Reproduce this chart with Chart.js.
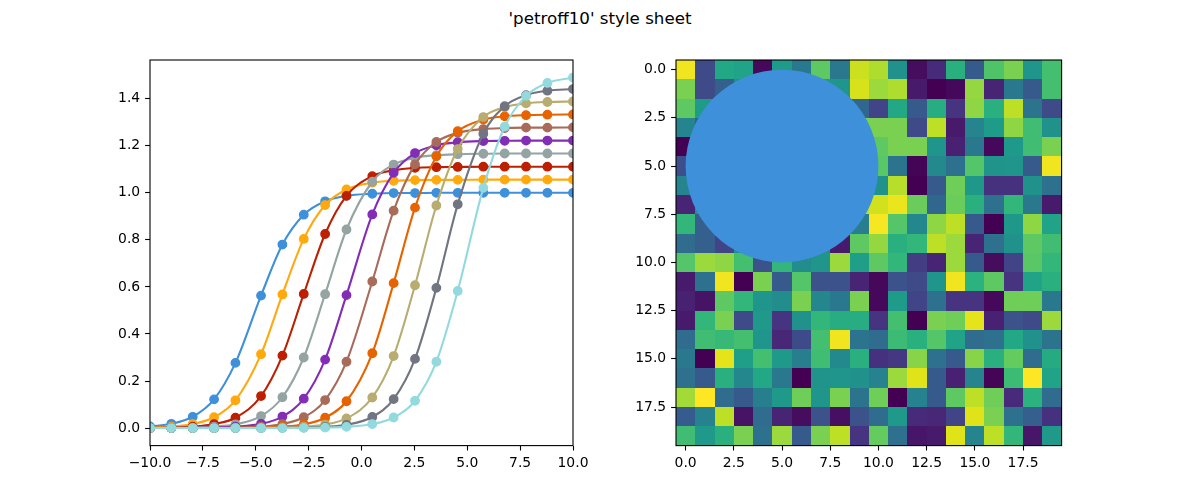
<!DOCTYPE html>
<html>
<head>
<meta charset="utf-8">
<script src="https://cdn.jsdelivr.net/npm/chart.js@4"></script>
<style>
  html, body { margin: 0; padding: 0; background: #fff; }
  #fig { position: relative; width: 1200px; height: 500px; }
  #title { position: absolute; left: 0; top: 8px; width: 1200px; text-align: center;
           font-family: 'DejaVu Sans'; font-size: 16.7px; color: #000; }
  canvas { position: absolute; top: 0; }
</style>
</head>
<body>
<div id="fig">
  <div id="title">'petroff10' style sheet</div>
  <canvas id="lines" width="600" height="500" style="left:0"></canvas>
  <canvas id="image" width="600" height="500" style="left:600px"></canvas>
</div>
<script>
// marker positions on the x axis (left panel)
const xMarkers = [-10, -8.99, -7.98, -6.97, -5.96, -4.75, -3.74, -2.73, -1.72, -0.71,
                  0.51, 1.52, 2.53, 3.54, 4.55, 5.76, 6.77, 7.78, 8.79, 10];

// sigmoid curves, one per colour
const curve1 = [0.007, 0.018, 0.048, 0.122, 0.277, 0.563, 0.780, 0.907, 0.964, 0.987, 0.996, 0.999, 0.999, 1.0, 1.0, 1.0, 1.0, 1.0, 1.0, 1.0];
const curve2 = [0.002, 0.006, 0.017, 0.046, 0.118, 0.314, 0.568, 0.804, 0.948, 1.014, 1.043, 1.051, 1.054, 1.055, 1.055, 1.056, 1.056, 1.056, 1.056, 1.056];
const curve3 = [0.001, 0.002, 0.006, 0.017, 0.044, 0.136, 0.308, 0.570, 0.825, 0.987, 1.071, 1.096, 1.106, 1.109, 1.110, 1.111, 1.111, 1.111, 1.111, 1.111];
const curve4 = [0.0, 0.001, 0.002, 0.006, 0.016, 0.051, 0.131, 0.300, 0.569, 0.844, 1.047, 1.120, 1.149, 1.160, 1.164, 1.166, 1.167, 1.167, 1.167, 1.167];
const curve5 = [0.0, 0.0, 0.001, 0.002, 0.006, 0.018, 0.049, 0.125, 0.291, 0.565, 0.908, 1.085, 1.169, 1.202, 1.215, 1.220, 1.221, 1.222, 1.222, 1.222];
const curve6 = [0.0, 0.0, 0.0, 0.001, 0.002, 0.006, 0.017, 0.046, 0.119, 0.282, 0.623, 0.924, 1.121, 1.216, 1.255, 1.271, 1.275, 1.277, 1.277, 1.278];
const curve7 = [0.0, 0.0, 0.0, 0.0, 0.001, 0.002, 0.006, 0.016, 0.044, 0.114, 0.318, 0.616, 0.937, 1.155, 1.262, 1.311, 1.325, 1.330, 1.332, 1.333];
const curve8 = [0.0, 0.0, 0.0, 0.0, 0.0, 0.001, 0.002, 0.006, 0.015, 0.041, 0.130, 0.306, 0.607, 0.946, 1.186, 1.322, 1.364, 1.380, 1.386, 1.388];
const curve9 = [0.0, 0.0, 0.0, 0.0, 0.0, 0.0, 0.001, 0.002, 0.005, 0.014, 0.047, 0.123, 0.294, 0.596, 0.951, 1.251, 1.368, 1.415, 1.434, 1.441];
const curve10 = [0.0, 0.0, 0.0, 0.0, 0.0, 0.0, 0.0, 0.001, 0.002, 0.005, 0.017, 0.045, 0.116, 0.282, 0.583, 1.021, 1.281, 1.412, 1.467, 1.490];
const curves = [curve1, curve2, curve3, curve4, curve5, curve6, curve7, curve8, curve9, curve10];

const petroff10 = ['#3f90da', '#ffa90e', '#bd1f01', '#94a4a2', '#832db6',
                   '#a96b59', '#e76300', '#b9ac70', '#717581', '#92dadd'];

const lineXTicks = [-10, -7.5, -5, -2.5, 0, 2.5, 5, 7.5, 10];
const lineXLabels = ['\u221210.0', '\u22127.5', '\u22125.0', '\u22122.5', '0.0', '2.5', '5.0', '7.5', '10.0'];
const lineYTicks = [0, 0.2, 0.4, 0.6, 0.8, 1.0, 1.2, 1.4];
const lineYLabels = ['0.0', '0.2', '0.4', '0.6', '0.8', '1.0', '1.2', '1.4'];

// right panel: 20x20 image values (0..1), row 0 at the top
const cellValues = [
  [0.98, 0.22, 0.60, 0.58, 0.02, 0.55, 0.40, 0.75, 0.40, 0.92, 0.88, 0.50, 0.03, 0.12, 0.63, 0.28, 0.72, 0.80, 0.52, 0.70],
  [0.80, 0.22, 0.30, 0.50, 0.50, 0.50, 0.50, 0.55, 0.52, 0.94, 0.85, 0.88, 0.07, 0.00, 0.02, 0.84, 0.10, 0.40, 0.28, 0.70],
  [0.75, 0.55, 0.50, 0.50, 0.50, 0.50, 0.50, 0.50, 0.50, 0.33, 0.20, 0.60, 0.28, 0.62, 0.15, 0.83, 0.63, 0.90, 0.38, 0.22],
  [0.45, 0.30, 0.50, 0.50, 0.50, 0.50, 0.50, 0.50, 0.50, 0.80, 0.80, 0.80, 0.22, 0.90, 0.07, 0.45, 0.55, 0.83, 0.69, 0.50],
  [0.00, 0.50, 0.50, 0.50, 0.50, 0.50, 0.50, 0.50, 0.50, 0.50, 0.75, 0.80, 0.80, 0.52, 0.09, 0.40, 0.02, 0.54, 0.69, 0.80],
  [0.24, 0.50, 0.50, 0.50, 0.50, 0.50, 0.50, 0.50, 0.50, 0.50, 0.74, 0.38, 0.01, 0.47, 0.37, 0.73, 0.51, 0.52, 0.28, 0.98],
  [0.45, 0.50, 0.50, 0.50, 0.50, 0.50, 0.50, 0.50, 0.50, 0.50, 0.50, 0.89, 0.00, 0.28, 0.78, 0.53, 0.14, 0.14, 0.50, 0.37],
  [0.10, 0.50, 0.50, 0.50, 0.50, 0.50, 0.50, 0.50, 0.50, 0.90, 0.93, 0.97, 0.77, 0.33, 0.77, 0.63, 0.37, 0.66, 0.40, 0.07],
  [0.66, 0.30, 0.50, 0.50, 0.50, 0.50, 0.50, 0.50, 0.50, 0.42, 0.99, 0.73, 0.46, 0.83, 0.90, 0.28, 0.00, 0.53, 0.83, 0.58],
  [0.35, 0.30, 0.20, 0.50, 0.50, 0.50, 0.50, 0.50, 0.07, 0.75, 0.84, 0.63, 0.66, 0.90, 0.85, 0.10, 0.37, 0.50, 0.75, 0.69],
  [0.73, 0.85, 0.83, 0.70, 0.25, 0.66, 0.48, 0.52, 0.85, 0.56, 0.75, 0.66, 0.18, 0.10, 0.85, 0.28, 0.03, 0.20, 0.74, 0.66],
  [0.07, 0.37, 0.98, 0.00, 0.80, 0.28, 0.73, 0.25, 0.25, 0.10, 0.02, 0.25, 0.22, 0.52, 0.98, 0.64, 0.75, 0.15, 0.58, 0.63],
  [0.09, 0.05, 0.75, 0.66, 0.52, 0.48, 0.80, 0.46, 0.40, 0.80, 0.02, 0.55, 0.20, 0.37, 0.15, 0.15, 0.02, 0.78, 0.78, 0.40],
  [0.07, 0.66, 0.80, 0.22, 0.54, 0.15, 0.50, 0.66, 0.62, 0.62, 0.15, 0.70, 0.00, 0.80, 0.78, 0.96, 0.09, 0.25, 0.22, 0.85],
  [0.35, 0.69, 0.67, 0.70, 0.52, 0.11, 0.23, 0.70, 0.98, 0.38, 0.35, 0.68, 0.63, 0.73, 0.58, 0.35, 0.37, 0.60, 0.50, 0.38],
  [0.40, 0.00, 0.96, 0.56, 0.70, 0.54, 0.43, 0.69, 0.47, 0.63, 0.14, 0.16, 0.82, 0.37, 0.28, 0.82, 0.63, 0.76, 0.35, 0.61],
  [0.37, 0.28, 0.63, 0.46, 0.60, 0.40, 0.00, 0.51, 0.52, 0.50, 0.44, 0.85, 0.95, 0.28, 0.09, 0.45, 0.01, 0.68, 1.00, 0.58],
  [0.86, 1.00, 0.35, 0.28, 0.43, 0.54, 0.78, 0.52, 0.80, 0.38, 0.78, 0.00, 0.44, 0.28, 0.75, 0.90, 0.78, 0.12, 0.64, 0.35],
  [0.29, 0.44, 0.90, 0.05, 0.35, 0.10, 0.03, 0.25, 0.04, 0.25, 0.35, 0.54, 0.12, 0.11, 0.20, 0.95, 0.80, 0.37, 0.30, 0.14],
  [0.69, 0.54, 0.63, 0.80, 0.37, 0.85, 0.28, 0.80, 0.90, 0.15, 0.76, 0.37, 0.06, 0.07, 0.95, 0.45, 0.90, 0.66, 0.06, 0.54]
];
const imageTicks = [0, 2.5, 5, 7.5, 10, 12.5, 15, 17.5];
const imageLabels = ['0.0', '2.5', '5.0', '7.5', '10.0', '12.5', '15.0', '17.5'];
const patchCenter = [5, 5];
const patchRadius = 5;

// viridis colormap stops, every 0.05
const viridis = ['#440154', '#471365', '#482475', '#463480', '#414487', '#3b528b', '#355f8d',
  '#2f6c8e', '#2a788e', '#25848e', '#21918c', '#1e9c89', '#22a884', '#2fb47c', '#44bf70',
  '#5ec962', '#7ad151', '#9bd93c', '#bddf26', '#dfe318', '#fde725'];

function hexRgb(h) {
  return [parseInt(h.slice(1, 3), 16), parseInt(h.slice(3, 5), 16), parseInt(h.slice(5, 7), 16)];
}
function viridisColor(v) {
  const p = Math.max(0, Math.min(1, v)) * (viridis.length - 1);
  const i = Math.min(viridis.length - 2, Math.floor(p));
  const f = p - i;
  const a = hexRgb(viridis[i]), b = hexRgb(viridis[i + 1]);
  const c = a.map((x, k) => Math.round(x + (b[k] - x) * f));
  return 'rgb(' + c.join(',') + ')';
}

Chart.defaults.font.family = 'DejaVu Sans';
Chart.defaults.font.size = 13.9;
Chart.defaults.color = '#000';

const spinePlugin = {
  id: 'spines',
  afterDraw(chart) {
    const a = chart.chartArea, ctx = chart.ctx;
    ctx.save();
    ctx.strokeStyle = '#000';
    ctx.lineWidth = 1.1;
    ctx.strokeRect(a.left, a.top, a.right - a.left, a.bottom - a.top);
    ctx.restore();
  }
};

function axis(ticks, labels, extra) {
  return Object.assign({
    type: 'linear',
    afterBuildTicks: s => { s.ticks = ticks.map(v => ({ value: v })); },
    ticks: {
      autoSkip: false, maxRotation: 0, padding: 4.9, color: '#000',
      callback: (v) => { const i = ticks.indexOf(v); return i >= 0 ? labels[i] : ''; }
    },
    grid: { drawOnChartArea: false, drawTicks: true, tickLength: 4.9, tickWidth: 1.1, tickColor: '#000', color: '#000' },
    border: { display: false }
  }, extra);
}

// left panel: coloured sigmoid lines with markers
new Chart(document.getElementById('lines'), {
  type: 'line',
  data: {
    datasets: curves.map((vals, i) => ({
      data: vals.map((v, k) => ({ x: xMarkers[k], y: v })),
      borderColor: petroff10[i],
      backgroundColor: petroff10[i],
      pointBackgroundColor: petroff10[i],
      pointBorderColor: petroff10[i],
      borderWidth: 2.1,
      pointRadius: 4.2,
      pointHoverRadius: 4.2,
      pointBorderWidth: 1.4,
      cubicInterpolationMode: 'monotone',
      clip: 0,
      order: curves.length - i
    }))
  },
  options: {
    responsive: false,
    animation: false,
    events: [],
    layout: { padding: { left: 100, right: 27, top: 60, bottom: 24.4 } },
    plugins: { legend: { display: false }, tooltip: { enabled: false } },
    scales: {
      x: axis(lineXTicks, lineXLabels, { min: -10, max: 10, afterFit: s => { s.height = 30; } }),
      y: axis(lineYTicks, lineYLabels, { min: -0.0745, max: 1.5645, afterFit: s => { s.width = 50; } })
    }
  },
  plugins: [spinePlugin]
});

// right panel: image cells plus a circular patch
const imagePlugin = {
  id: 'imageCells',
  beforeDatasetsDraw(chart) {
    const xs = chart.scales.x, ys = chart.scales.y, ctx = chart.ctx;
    ctx.save();
    cellValues.forEach((row, r) => {
      row.forEach((v, c) => {
        const x0 = Math.round(xs.getPixelForValue(c - 0.5));
        const x1 = Math.round(xs.getPixelForValue(c + 0.5));
        const y0 = Math.round(ys.getPixelForValue(r - 0.5));
        const y1 = Math.round(ys.getPixelForValue(r + 0.5));
        ctx.fillStyle = viridisColor(v);
        ctx.fillRect(x0, y0, x1 - x0, y1 - y0);
      });
    });
    const cx = xs.getPixelForValue(patchCenter[0]);
    const cy = ys.getPixelForValue(patchCenter[1]);
    const rad = Math.abs(xs.getPixelForValue(patchCenter[0] + patchRadius) - cx);
    ctx.fillStyle = petroff10[0];
    ctx.beginPath();
    ctx.arc(cx, cy, rad, 0, Math.PI * 2);
    ctx.fill();
    ctx.restore();
  }
};

new Chart(document.getElementById('image'), {
  type: 'scatter',
  data: { datasets: [{ data: [] }] },
  options: {
    responsive: false,
    animation: false,
    events: [],
    layout: { padding: { left: 26, right: 138.4, top: 60, bottom: 24.4 } },
    plugins: { legend: { display: false }, tooltip: { enabled: false } },
    scales: {
      x: axis(imageTicks, imageLabels, { min: -0.5, max: 19.5, afterFit: s => { s.height = 30; } }),
      y: axis(imageTicks, imageLabels, { min: -0.5, max: 19.5, reverse: true, afterFit: s => { s.width = 50; } })
    }
  },
  plugins: [imagePlugin, spinePlugin]
});
</script>
</body>
</html>
